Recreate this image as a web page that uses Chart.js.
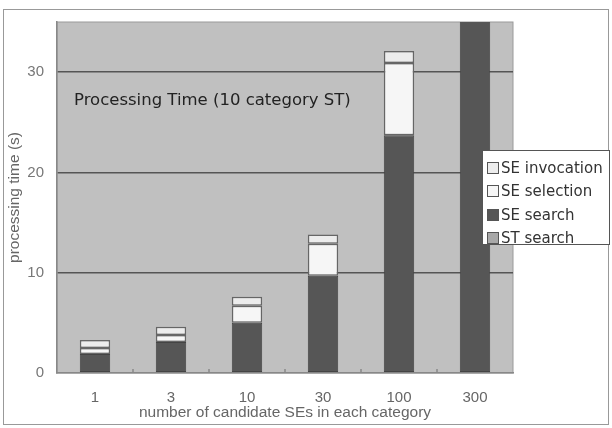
<!DOCTYPE html>
<html>
<head>
<meta charset="utf-8">
<script src="https://cdn.jsdelivr.net/npm/chart.js@4.4.0/dist/chart.umd.min.js"></script>
<style>
    body { margin: 0; background: #fff; font-family: "DejaVu Sans", sans-serif; }
    #wrap { position: relative; width: 612px; height: 428px; }
    #frame { position: absolute; left: 3px; top: 9px; width: 606px; height: 416px; border: 1px solid #999; box-sizing: border-box; }
    #title { position: absolute; left: 74px; top: 90px; font-size: 16.5px; color: #222; }
    #legend { position: absolute; left: 482px; top: 150px; width: 128px; height: 95px; background: #fff; border: 1px solid #555; box-sizing: border-box; padding-top: 5px; }
    .item { height: 23.5px; font-size: 15px; color: #333; display: flex; align-items: center; padding-left: 4px; }
    .box { width: 10px; height: 10px; border: 1px solid #555; margin-right: 2px; }
</style>
</head>
<body>
<div id="wrap">
    <div id="frame"></div>
    <canvas id="myChart" width="612" height="428"></canvas>
    <div id="title">Processing Time (10 category ST)</div>
    <div id="legend"></div>
</div>
<script>
const categories = ["1", "3", "10", "30", "100", "300"];
const stSearch = [0.1, 0.1, 0.1, 0.1, 0.1, 0.1];
const seSearch = [1.8, 3.0, 4.9, 9.6, 23.6, 45];
const seSelection = [0.6, 0.7, 1.7, 3.2, 7.2, 6];
const seInvocation = [0.8, 0.8, 0.9, 0.9, 1.2, 1.5];
const yTicks = [0, 10, 20, 30];

document.addEventListener("DOMContentLoaded", function () {
    const ctx = document.getElementById("myChart").getContext("2d");

    // grey plot background, thin frame, and small upward ticks between categories
    const plotBg = {
        id: "plotBg",
        beforeDraw(chart) {
            const a = chart.chartArea;
            const c = chart.ctx;
            c.save();
            c.fillStyle = "#c0c0c0";
            c.fillRect(a.left, a.top, a.right - a.left, a.bottom - a.top);
            c.strokeStyle = "#9a9a9a";
            c.lineWidth = 1;
            c.strokeRect(a.left, a.top, a.right - a.left, a.bottom - a.top);
            const xs = chart.scales.x;
            c.strokeStyle = "#888";
            c.lineWidth = 1.5;
            for (let i = 1; i < categories.length; i++) {
                const px = (xs.getPixelForTick(i - 1) + xs.getPixelForTick(i)) / 2;
                c.beginPath();
                c.moveTo(px, a.bottom);
                c.lineTo(px, a.bottom - 4);
                c.stroke();
            }
            c.restore();
        }
    };

    const datasets = [
        { label: "ST search", data: stSearch, backgroundColor: "#a8a8a8", borderColor: "#666", borderWidth: 1 },
        { label: "SE search", data: seSearch, backgroundColor: "#565656", borderColor: "#444", borderWidth: 1 },
        { label: "SE selection", data: seSelection, backgroundColor: "#f6f6f6", borderColor: "#666", borderWidth: 1.5 },
        { label: "SE invocation", data: seInvocation, backgroundColor: "#ececec", borderColor: "#666", borderWidth: 1.5 }
    ];

    new Chart(ctx, {
        type: "bar",
        data: { labels: categories, datasets: datasets },
        plugins: [plotBg],
        options: {
            responsive: false,
            animation: false,
            layout: { padding: { left: 0, right: 99, top: 20, bottom: 0 } },
            datasets: { bar: { barPercentage: 0.4, categoryPercentage: 1.0, borderSkipped: false } },
            plugins: { legend: { display: false }, tooltip: { enabled: false } },
            scales: {
                x: {
                    stacked: true,
                    afterFit: s => { s.height = 55; },
                    grid: { display: false },
                    border: { color: "#888", width: 1.5 },
                    ticks: { color: "#666", font: { size: 15 }, padding: 8 },
                    title: { display: true, text: "number of candidate SEs in each category", color: "#666", font: { size: 15.5 }, padding: { top: 0, bottom: 6 } }
                },
                y: {
                    stacked: true,
                    min: 0,
                    max: 35,
                    afterFit: s => { s.width = 57; },
                    afterBuildTicks: s => { s.ticks = yTicks.map(v => ({ value: v })); },
                    grid: { color: ctx => ctx.tick && ctx.tick.value === 0 ? "rgba(0,0,0,0)" : "#555", lineWidth: 1.5, tickLength: 0 },
                    border: { color: "#888", width: 1.5 },
                    ticks: { color: "#777", font: { size: 15 }, padding: 13 },
                    title: { display: true, text: "processing time (s)", color: "#666", font: { size: 15.5 }, padding: { top: 5 } }
                }
            }
        }
    });

    // legend, top entry first like the figure
    const legend = document.getElementById("legend");
    datasets.slice().reverse().forEach(function (d) {
        const row = document.createElement("div");
        row.className = "item";
        row.innerHTML = '<span class="box" style="background:' + d.backgroundColor + '"></span>' + d.label;
        legend.appendChild(row);
    });
});
</script>
</body>
</html>
